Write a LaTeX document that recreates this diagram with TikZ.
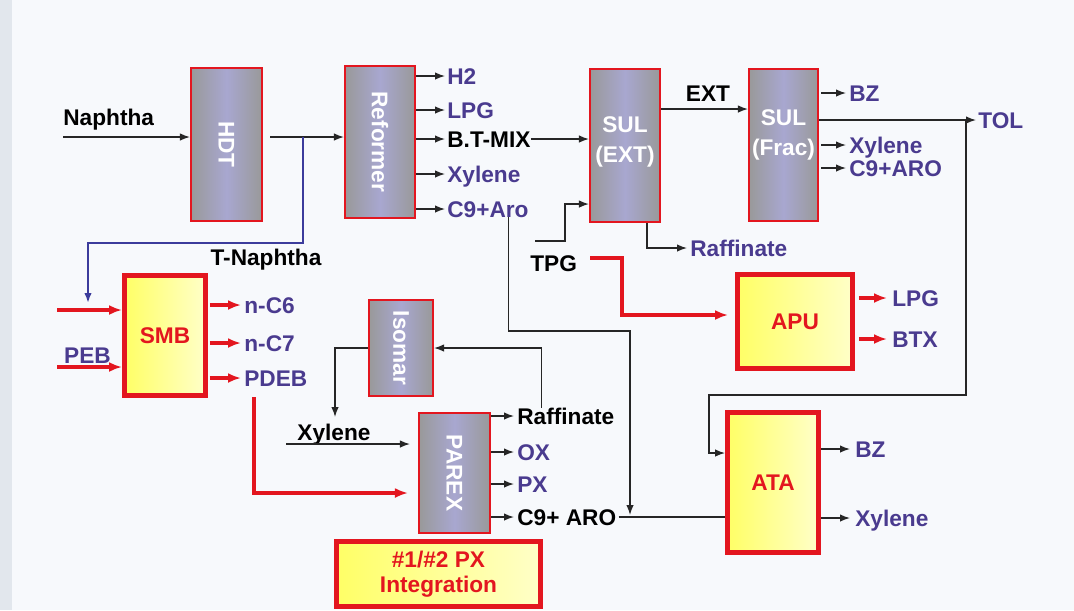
\documentclass[tikz,border=0pt]{standalone}
\usepackage{fontspec}
\setmainfont{Liberation Sans}
\usetikzlibrary{arrows.meta}
\definecolor{unitred}{HTML}{E3161F}
\definecolor{unitgray}{HTML}{999999}
\definecolor{unitlav}{HTML}{A8A7D0}
\definecolor{unityel}{HTML}{FFFF66}
\definecolor{unitpale}{HTML}{FFFFC8}
\definecolor{prodblue}{HTML}{4A3B8F}
\definecolor{tnblue}{HTML}{3C3C9C}
\definecolor{bgcol}{HTML}{F7F9FC}
\definecolor{stripcol}{HTML}{E2E7ED}
\tikzset{
    flowsheet/.style={
        x=0.02cm, y=-0.02cm,
        every node/.style={font=\fontsize{12.9}{17}\selectfont\bfseries},
        unit/.style={draw=unitred, line width=0.9pt, left color=unitgray,
            right color=unitgray, middle color=unitlav, text=white,
            inner sep=0pt, align=center},
        unittext/.style={text=white, align=center},
        newunit/.style={draw=unitred, line width=2.8pt, left color=unityel,
            right color=unitpale, text=unitred, inner sep=0pt, align=center},
        prod/.style={anchor=west, inner sep=0pt, text height=9.2pt,
            text depth=0pt, text=prodblue},
        feed/.style={prod, text=black},
        line/.style={line width=0.8pt, draw=black!85},
        flow/.style={line, -{Latex[length=2mm, width=1.5mm]}},
        redflow/.style={-{Latex[length=2.6mm, width=2mm]}, line width=2.2pt,
            draw=unitred},
        blueflow/.style={-{Latex[length=2mm, width=1.5mm]}, line width=1.3pt,
            draw=tnblue},
    },
}

\begin{document}
\begin{tikzpicture}[flowsheet]
    \fill[bgcol] (0,0) rectangle (1074,610);
    \fill[stripcol] (0,0) rectangle (12,610);

    % process units
    \node[unit, minimum width=1.43cm, minimum height=3.07cm] (hdt) at (226.5,144.5) {\rotatebox{-90}{HDT}};
    \node[unit, minimum width=1.41cm, minimum height=3.05cm] (ref) at (380,142)   {\rotatebox{-90}{Reformer}};
    \node[unit, minimum width=1.41cm, minimum height=3.07cm,
        label={[unittext, yshift=0.08cm]center:SUL\\(EXT)}] (sulx) at (625,145.5) {};
    \node[unit, minimum width=1.39cm, minimum height=3.05cm,
        label={[unittext, yshift=0.2cm]center:SUL\\(Frac)}] (sulf) at (783.5,145) {};
    \node[unit, minimum width=1.29cm, minimum height=1.93cm] (iso) at (401,348)   {\rotatebox{-90}{Isomar}};
    \node[unit, minimum width=1.43cm, minimum height=2.41cm] (parex) at (454.5,473) {\rotatebox{-90}{PAREX}};

    \node[newunit, minimum width=1.62cm, minimum height=2.4cm]  (smb) at (165,335.5) {SMB};
    \node[newunit, minimum width=2.3cm,  minimum height=1.88cm] (apu) at (795,321.5) {APU};
    \node[newunit, minimum width=1.82cm, minimum height=2.8cm]  (ata) at (773,482.5) {ATA};
    \node[newunit, minimum width=4.08cm, minimum height=1.3cm,
        font=\fontsize{12.9}{14.5}\selectfont\bfseries] (pxi) at (438.5,574) {\#1/\#2 PX\\Integration};

    % naphtha feed
    \node[feed] (naph) at (63,117) {Naphtha};
    \coordinate (naphin) at (63,137);
    \coordinate (split) at (303,137);
    \draw[flow] (naphin) -- (naphin -| hdt.west);
    \draw[flow, shorten <=0.14cm] (hdt.east |- naphin) -- (ref.west |- naphin);

    % T-naphtha to SMB
    \coordinate (tnin) at (88,303);
    \draw[blueflow] (split) -- ++(0,106) -| (tnin);
    \node[feed, anchor=center] (tnaph) at (266,257) {T-Naphtha};

    % reformer products
    \foreach \name/\y/\txt/\col in {r1/76/H2/prodblue, r2/110/LPG/prodblue,
        r3/139/B.T-MIX/black, r4/174/Xylene/prodblue, r5/209/C9+Aro/prodblue}
    {
        \node[prod, text=\col] (\name) at (447,\y) {\txt};
        \draw[flow, shorten >=0.04cm] (ref.east |- \name.west) -- (\name.west);
    }
    \draw[flow] (r3.east) -- (sulx.west |- r3.east);

    % SUL extraction
    \coordinate (xin) at (535,241);
    \draw[flow] (xin) -- ++(30,0) |- ([yshift=0.38cm]sulx.south west);
    \node[prod] (raff1) at (690,248) {Raffinate};
    \draw[flow, shorten >=0.06cm] ([xshift=0.44cm]sulx.south) |- (raff1.west);

    \node[feed] (tpg) at (530,263) {TPG};
    \draw[redflow, shorten >=0.14cm] ([xshift=0.26cm, yshift=0.1cm]tpg.east) -- ++(32,0)
        |- ([yshift=0.13cm]apu.west);

    \draw[flow] ([yshift=0.73cm]sulx.east) coordinate (ext0) -- (ext0 -| sulf.west);
    \node[feed, anchor=center] (ext) at (708,93) {EXT};

    % SUL fractionation products
    \foreach \name/\y/\txt in {f1/93/BZ, f3/145/Xylene, f4/168/C9+ARO}
    {
        \node[prod] (\name) at (849,\y) {\txt};
        \draw[flow, shorten <=0.04cm, shorten >=0.06cm] (sulf.east |- \name.west) -- (\name.west);
    }
    \node[prod] (tol) at (978,120) {TOL};
    \draw[flow, shorten >=0.04cm] (sulf.east |- tol.west) -- (tol.west);

    % toluene to ATA
    \coordinate (tolsplit) at (966,120);
    \coordinate (tolbend) at (709,395);
    \draw[flow] (tolsplit) |- (tolbend) |- ([yshift=0.59cm]ata.west);

    % SMB feeds and products
    \coordinate (sin1) at (57,310);
    \coordinate (sin2) at (57,367);
    \draw[redflow] (sin1) -- (sin1 -| smb.west);
    \draw[redflow] (sin2) -- (sin2 -| smb.west);
    \node[prod, anchor=center] (peb) at (87.5,355) {PEB};
    \foreach \name/\y/\txt in {s1/305/n-C6, s2/343/n-C7, s3/378/PDEB}
    {
        \node[prod] (\name) at (244,\y) {\txt};
        \draw[redflow, shorten <=0.04cm, shorten >=0.06cm] (smb.east |- \name.west) -- (\name.west);
    }
    \draw[redflow, shorten >=0.2cm] ([xshift=0.2cm, yshift=-0.22cm]s3.south west)
        |- ([yshift=-0.4cm]parex.west);

    % PAREX loop
    \foreach \name/\y/\txt/\col in {p1/416/Raffinate/black, p2/452/OX/prodblue,
        p3/484/PX/prodblue, p4/517/C9+ ARO/black}
    {
        \node[prod, text=\col] (\name) at (517,\y) {\txt};
        \draw[flow, shorten >=0.06cm] (parex.east |- \name.west) -- (\name.west);
    }
    \draw[flow] ([xshift=-0.49cm]p1.north) |- (iso.east);
    \coordinate (xin3) at (335,417);
    \draw[flow] (iso.west) -| (xin3);
    \node[feed, anchor=center] (xyl) at (334,432) {Xylene};
    \coordinate (xylin) at (286,444);
    \draw[flow, shorten >=0.16cm] (xylin) -- (xylin -| parex.west);

    % heavy aromatics to ATA
    \coordinate (c9bend) at (630,331);
    \draw[flow, shorten >=0.04cm] ([xshift=0.41cm]r5.south) |- (c9bend) -- (c9bend |- p4.west);
    \draw[line] (p4.east) ++(2,0) -- (ata.west |- p4.east);

    % APU and ATA products
    \foreach \name/\y/\txt in {a1/298/LPG, a2/339/BTX}
    {
        \node[prod] (\name) at (892,\y) {\txt};
        \draw[redflow, shorten <=0.08cm, shorten >=0.1cm] (apu.east |- \name.west) -- (\name.west);
    }
    \foreach \name/\y/\txt in {t1/449/BZ, t2/518/Xylene}
    {
        \node[prod] (\name) at (855,\y) {\txt};
        \draw[flow, shorten >=0.1cm] (ata.east |- \name.west) -- (\name.west);
    }
\end{tikzpicture}
\end{document}
